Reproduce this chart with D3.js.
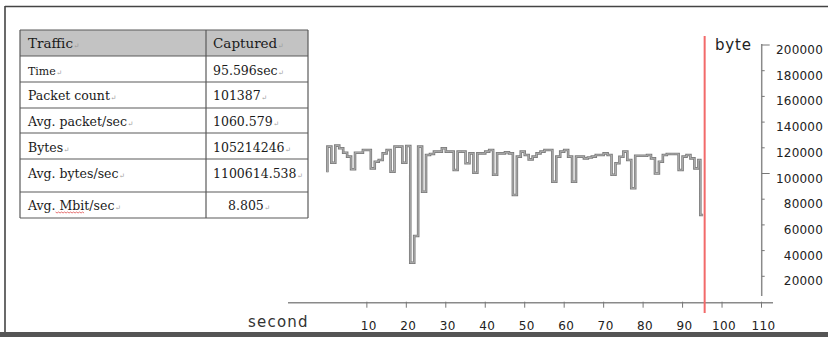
<!DOCTYPE html>
<html>
<head>
<meta charset="utf-8">
<script src="https://cdn.jsdelivr.net/npm/d3@7"></script>
<style>
  html, body { margin: 0; padding: 0; background: #fff; }
  svg { display: block; }
</style>
</head>
<body>
<svg id="chart" width="828" height="337"></svg>
<script>
// ---- data ----
const seconds = [0, 0, 1, 2, 3, 4, 5, 6, 7, 8, 9, 10, 11, 12, 13, 14, 15, 16, 17, 18, 19,
  20, 21, 22, 23, 24, 25, 26, 27, 28, 29, 30, 31, 32, 33, 34, 35, 36, 37, 38, 39,
  40, 41, 42, 43, 44, 45, 46, 47, 48, 49, 50, 51, 52, 53, 54, 55, 56, 57, 58, 59,
  60, 61, 62, 63, 64, 65, 66, 67, 68, 69, 70, 71, 72, 73, 74, 75, 76, 77, 78, 79,
  80, 81, 82, 83, 84, 85, 86, 87, 88, 89, 90, 91, 92, 93, 94, 94.5, 95.2];
const bytes = [101000, 120900, 108400, 121700, 119600, 116200, 113100, 103300, 116200, 116200, 118300,
  118300, 104000, 109200, 110500, 115700, 118300, 101400, 120900, 120900, 108400,
  121400, 30600, 51400, 120900, 85800, 114400, 115200, 117000, 117000, 119600,
  117000, 117000, 102700, 117000, 117000, 108000, 115700, 100600, 115700, 115700,
  117000, 118300, 99000, 115700, 115700, 116500, 115700, 83300, 113100, 117000,
  114400, 111000, 113100, 115700, 117000, 118300, 118300, 93600, 113100, 117000,
  118300, 113100, 93600, 113100, 113100, 111800, 112500, 113100, 114400, 114400,
  115700, 114400, 99000, 108000, 113000, 117000, 110500, 88500, 113800, 113800,
  113800, 114400, 111800, 100000, 109200, 114400, 115200, 115200, 115200, 102700,
  113100, 114400, 111800, 104000, 110500, 67700, 67700];
const xTicks = [10, 20, 30, 40, 50, 60, 70, 80, 90, 100, 110];
const yTicks = [200000, 180000, 160000, 140000, 120000, 100000, 80000, 60000, 40000, 20000];
const captureTime = 95.596;

const tableHeader = ["Traffic", "Captured"];
const tableLabels = ["Time", "Packet count", "Avg. packet/sec", "Bytes", "Avg. bytes/sec", "Avg. Mbit/sec"];
const tableValues = ["95.596sec", "101387", "1060.579", "105214246", "1100614.538", "8.805"];

// ---- layout ----
const svg = d3.select("#chart");
const x = d3.scaleLinear().domain([0, 110]).range([327.4, 761.5]);
const y = d3.scaleLinear().domain([0, 200000]).range([302, 45]);

// frame
svg.append("rect").attr("x", 0).attr("y", 0).attr("width", 828).attr("height", 337).attr("fill", "#fff");
svg.append("line").attr("x1", 5).attr("x2", 828).attr("y1", 6.5).attr("y2", 6.5)
  .attr("stroke", "#444").attr("stroke-width", 1.6);
svg.append("line").attr("x1", 5).attr("x2", 5).attr("y1", 6).attr("y2", 333)
  .attr("stroke", "#444").attr("stroke-width", 1.6);
svg.append("rect").attr("x", 0).attr("y", 332).attr("width", 828).attr("height", 5).attr("fill", "#555");

// x axis
const xAxisY = 302.7;
svg.append("line").attr("x1", 288).attr("x2", 773).attr("y1", xAxisY).attr("y2", xAxisY)
  .attr("stroke", "#8a8a8a").attr("stroke-width", 1.5);
const xg = svg.append("g");
xg.selectAll("line").data(xTicks).join("line")
  .attr("x1", d => x(d)).attr("x2", d => x(d))
  .attr("y1", xAxisY - 1).attr("y2", xAxisY + 5)
  .attr("stroke", "#777").attr("stroke-width", 1);
xg.selectAll("text").data(xTicks).join("text")
  .attr("x", d => x(d) + 2).attr("y", 329.5)
  .attr("text-anchor", "middle")
  .attr("font-family", "DejaVu Sans").attr("font-size", 12)
  .attr("letter-spacing", 0.4)
  .attr("fill", "#222")
  .text(d => d);
svg.append("text").attr("x", 248).attr("y", 327)
  .attr("font-family", "DejaVu Sans").attr("font-size", 15)
  .attr("letter-spacing", 1.2).attr("fill", "#333")
  .text("second");

// y axis
const yAxisX = 761.7;
svg.append("line").attr("x1", yAxisX).attr("x2", yAxisX).attr("y1", 44).attr("y2", 296)
  .attr("stroke", "#8a8a8a").attr("stroke-width", 1.5);
const yg = svg.append("g");
yg.selectAll("line").data(yTicks).join("line")
  .attr("x1", yAxisX).attr("x2", d => yAxisX + ((d === 200000 || d === 100000) ? 8 : 3))
  .attr("y1", d => y(d)).attr("y2", d => y(d))
  .attr("stroke", "#777").attr("stroke-width", 1);
yg.selectAll("text").data(yTicks).join("text")
  .attr("x", 823).attr("y", d => y(d) + 9)
  .attr("text-anchor", "end")
  .attr("font-family", "DejaVu Sans").attr("font-size", 12)
  .attr("letter-spacing", 0.2)
  .attr("fill", "#222")
  .text(d => d);
svg.append("text").attr("x", 715).attr("y", 50)
  .attr("font-family", "DejaVu Sans").attr("font-size", 15)
  .attr("letter-spacing", 0.8).attr("fill", "#222")
  .text("byte");

// series (step line)
const pts = seconds.map((s, i) => [s, bytes[i]]);
const line = d3.line().x(d => x(d[0])).y(d => y(d[1])).curve(d3.curveStepAfter);
svg.append("path").attr("d", line(pts)).attr("fill", "none")
  .attr("stroke", "#7c7c7c").attr("stroke-width", 2.6).attr("stroke-linejoin", "miter");
svg.append("path").attr("d", line(pts)).attr("fill", "none")
  .attr("stroke", "#b4b4b4").attr("stroke-width", 0.9).attr("stroke-linejoin", "miter");

// capture end marker
svg.append("line").attr("x1", x(captureTime)).attr("x2", x(captureTime))
  .attr("y1", 36).attr("y2", 313)
  .attr("stroke", "#f26a6a").attr("stroke-width", 2);

// ---- table ----
const tx0 = 20, tx1 = 206, tx2 = 308;
const rowEdges = [30, 56, 82, 108, 133, 159, 192, 218];
const tg = svg.append("g");
tg.append("rect").attr("x", tx0).attr("y", rowEdges[0]).attr("width", tx2 - tx0)
  .attr("height", rowEdges[1] - rowEdges[0]).attr("fill", "#c3c3c3");
tg.selectAll("line.h").data(rowEdges).join("line").attr("class", "h")
  .attr("x1", tx0).attr("x2", tx2).attr("y1", d => d).attr("y2", d => d)
  .attr("stroke", "#5a5a5a").attr("stroke-width", 1.2);
tg.selectAll("line.v").data([tx0, tx1, tx2]).join("line").attr("class", "v")
  .attr("x1", d => d).attr("x2", d => d).attr("y1", rowEdges[0]).attr("y2", rowEdges[rowEdges.length - 1])
  .attr("stroke", "#5a5a5a").attr("stroke-width", 1.2);

function cell(txt, xx, yy, size) {
  const t = tg.append("text").attr("x", xx).attr("y", yy)
    .attr("font-family", "DejaVu Serif").attr("font-size", size || 12.5).attr("fill", "#1a1a1a");
  t.append("tspan").text(txt);
  t.append("tspan").attr("font-size", 7).attr("fill", "#999").attr("dx", 0.5).text("\u21B5");
  return t;
}
const baselines = [48, 74.5, 100, 126, 151.5, 178, 209.5];
cell(tableHeader[0], 28, baselines[0], 13.5);
cell(tableHeader[1], 213, baselines[0], 13.5);
tableLabels.forEach((lab, i) => {
  cell(lab, 28, baselines[i + 1], i === 0 ? 11 : 12.5);
  cell(tableValues[i], i === 5 ? 228 : 213, baselines[i + 1], 12.5);
});
// spell-check squiggle under "Mbit"
(function () {
  const probe = tg.append("text").attr("font-family", "DejaVu Serif").attr("font-size", 12.5)
    .attr("visibility", "hidden");
  probe.text("Avg. ");
  const a = probe.node().getComputedTextLength();
  probe.text("Mbit");
  const b = probe.node().getComputedTextLength();
  probe.remove();
  const pathD = d3.path();
  const yy = baselines[6] + 2.5;
  pathD.moveTo(28 + a, yy);
  let k = 0;
  for (let xx = 28 + a + 1.5; xx <= 28 + a + b; xx += 1.5) {
    pathD.lineTo(xx, yy + (k++ % 2 ? 0 : 1));
  }
  tg.append("path").attr("d", pathD.toString()).attr("fill", "none")
    .attr("stroke", "#e05050").attr("stroke-width", 0.8);
})();
</script>
</body>
</html>
